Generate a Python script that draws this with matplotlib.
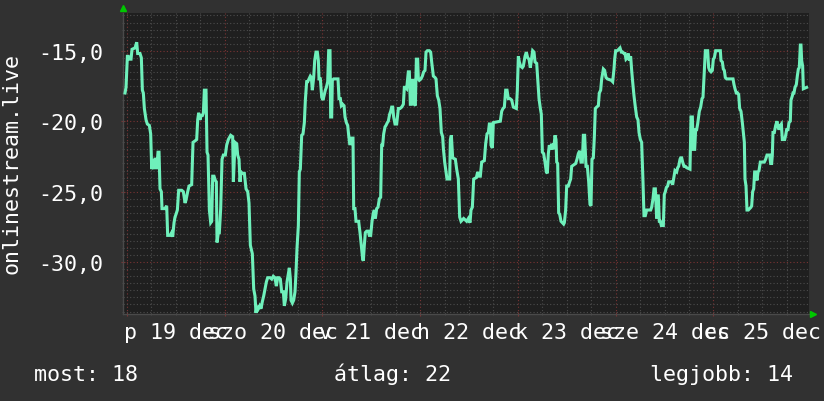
import matplotlib
matplotlib.use("Agg")
import matplotlib.pyplot as plt
from matplotlib.ticker import MultipleLocator, FixedLocator

# hours since 19 dec 00:00
hours = [-0.42, -0.17, 0.16, 0.4, 0.65, 1.06, 1.3, 2.04, 2.45, 2.69, 3.26, 3.59, 3.84, 4.08, 4.33, 4.74, 5.06, 5.55, 5.88,
         6.13, 6.37, 6.54, 6.95, 7.35, 7.68, 7.93, 8.17, 8.5, 8.66, 9.4, 9.81, 10.05, 10.63, 11.03, 11.28, 11.61, 11.85,
         12.1, 12.43, 12.75, 13.49, 13.9, 14.31, 14.55, 14.96, 15.29, 15.94, 16.27, 16.76, 17.17, 17.42, 17.66, 17.99,
         18.23, 18.56, 18.81, 19.05, 19.46, 19.71, 19.95, 20.28, 20.61, 20.85, 21.1, 21.42, 21.75, 22.0, 22.16, 22.49,
         22.73, 23.06, 23.39, 23.71, 24.2, 24.53, 24.94, 25.51, 26.0, 26.17, 26.58, 26.99,
         27.23, 27.56, 27.8, 28.05, 28.38, 28.87, 29.28, 29.69, 30.01, 30.34, 30.83, 31.16, 31.48, 31.73, 31.98, 32.3,
         32.63, 32.96, 33.28, 33.61, 33.94, 34.27, 34.59, 35.17, 35.58, 35.98, 36.39, 36.72, 37.05, 37.37, 37.7, 38.03,
         38.44, 38.68, 39.01, 39.34, 39.67, 39.91, 40.16, 40.32, 40.65, 40.97, 41.3, 41.55, 41.79, 42.12, 42.36, 42.61,
         42.94, 43.26, 43.59, 43.84, 44.16, 44.41, 44.74, 45.06, 45.31, 45.55, 45.88, 46.13, 46.45, 46.78, 47.03, 47.19,
         47.52, 47.85, 48.17, 48.5, 48.74, 48.99, 49.32, 49.56, 49.89, 50.05, 50.3, 50.46, 50.79, 51.85, 52.1, 52.43,
         52.67, 53.0, 53.33, 53.57, 53.9, 54.23, 54.47, 54.72, 55.04, 55.21, 55.53, 55.7,
         56.02, 56.27, 56.92, 57.25, 57.66, 57.91, 58.07, 58.31, 58.56, 58.89, 59.3, 59.54, 59.87, 60.2, 60.52, 60.77,
         61.02, 61.34, 61.67, 62.0, 62.32, 62.57, 62.81, 63.06, 63.39, 63.63, 63.96, 64.2, 64.53, 64.78, 65.02, 65.27,
         65.51, 65.84, 66.25, 66.66, 67.07, 67.48, 67.89, 68.13, 68.38, 68.7, 69.11, 69.36, 69.6, 69.85, 70.09, 70.34,
         70.59, 70.83, 71.08, 71.4, 71.57, 71.81, 72.22, 72.55, 72.88, 73.2, 73.45, 73.78, 74.27, 74.59, 74.84, 75.25,
         75.66, 75.9, 76.23, 76.56, 76.88, 77.21, 77.54, 77.7, 78.03, 78.27, 78.6, 79.26, 79.42, 79.67, 79.99, 80.65,
         80.97, 81.38, 81.71, 82.04, 82.69, 83.43, 83.84,
         84.25, 84.49, 84.82, 85.15, 85.8, 86.13, 86.45, 86.78, 87.11, 87.76, 88.09, 88.42, 88.75, 88.99, 89.24, 89.4,
         89.73, 89.97, 91.69, 92.02, 92.34, 92.67, 93.0, 93.33, 93.65, 94.06, 94.47, 94.88, 95.62, 95.86, 96.11, 96.35,
         96.68, 97.09, 97.33, 97.74, 98.07, 98.4, 98.72, 99.05, 99.38, 99.62, 99.95, 100.2, 100.61, 100.85, 101.18,
         101.51, 101.75, 102.0, 102.32, 102.65, 102.98, 103.22, 103.47, 103.71, 104.04, 104.29, 104.61, 104.94, 105.11,
         105.35, 105.52, 105.76, 106.0, 106.25, 106.58, 106.9, 107.23, 107.4, 107.72, 107.97, 108.38, 108.7, 108.95,
         109.2, 110.18, 110.5, 110.83, 111.16, 111.48, 111.81,
         112.06, 112.38, 112.71, 113.04, 113.37, 113.69, 113.94, 114.18, 114.51, 114.76, 115.0, 115.33, 115.74, 115.98,
         116.31, 116.56, 116.97, 117.29, 117.62, 117.95, 118.93, 119.26, 119.58, 119.75, 119.99, 120.4, 120.73, 121.06,
         121.38, 121.71, 122.04, 122.28, 122.53, 122.85, 123.1, 123.35, 123.67, 123.92, 124.16, 124.49, 124.82, 125.15,
         125.47, 125.72, 126.05, 126.37, 126.7, 126.94, 127.27, 127.6, 128.58, 128.83, 129.15, 129.4, 129.73, 130.05,
         130.22, 130.46, 130.71, 130.95, 131.2, 131.69, 131.93, 132.18, 132.43, 132.75, 133.0, 133.65, 133.98, 134.31,
         134.55, 134.96, 135.21, 135.45, 135.78, 135.94, 136.19, 136.43, 136.76, 137.09, 137.41, 138.23, 138.48, 138.81,
         139.05, 139.38, 139.62, 139.87, 140.11,
         140.52, 140.85, 141.18, 141.42, 141.75, 142.0, 142.57, 142.81, 143.06, 143.39, 143.71, 143.96, 144.2, 144.53,
         145.68, 145.84, 146.17, 146.41, 146.66, 146.9, 147.23, 148.79, 149.03, 149.28, 149.6, 149.93, 150.18, 150.42,
         150.75, 151.08, 151.32, 151.57, 151.73, 151.98, 152.22, 152.55, 152.88, 153.2, 153.37, 153.61, 153.86, 154.1,
         154.35, 154.67, 154.92, 155.17, 155.49, 156.47, 156.8, 157.13, 157.78, 158.03, 158.27, 158.44, 158.6, 158.93,
         159.26, 159.58, 159.75, 160.07, 160.4, 160.65, 160.89, 161.46, 161.71, 161.95, 162.28, 162.53, 162.85, 163.02,
         163.35, 163.51, 163.75, 164.0, 164.33, 164.57, 164.82, 165.06, 165.31, 165.47, 165.64, 165.88, 166.05, 166.86]

temps = [-18.0, -17.6, -15.4, -15.4, -15.6, -15.6, -14.9, -14.8, -14.4, -15.2, -15.2, -15.5, -17.8, -18.0, -19.1, -19.9,
         -20.2, -20.3, -20.9, -23.4, -22.7, -23.4, -22.6, -23.4, -22.2, -22.2, -24.8, -25.0, -26.2, -26.2, -26.0, -28.1,
         -28.1, -27.9, -28.2, -27.2, -26.8, -26.6, -26.3, -24.9, -24.9, -25.0, -25.8, -25.6, -25.0, -24.6, -24.5, -21.5,
         -21.4, -21.3, -19.9, -19.4, -19.9, -19.6, -19.6, -19.4, -17.8, -17.8, -22.2, -22.4, -26.3, -27.2, -27.1, -23.9,
         -23.9, -24.2, -24.3, -28.6, -27.9, -27.9, -26.2, -22.7, -22.4, -22.4, -21.7, -21.3, -21.0, -21.1, -24.3, -21.5,
         -21.6,
         -22.4, -22.7, -24.3, -23.6, -23.7, -23.7, -24.8, -25.0, -25.8, -28.8, -29.4, -31.9, -32.4, -33.6, -33.1, -33.3,
         -33.1, -33.3, -32.8, -32.4, -31.9, -31.4, -31.1, -31.1, -31.2, -31.0, -31.1, -31.7, -31.1, -31.1, -31.2, -32.1,
         -32.1, -33.1, -32.6, -31.4, -30.8, -30.4, -31.2, -32.7, -32.9, -32.7, -32.1, -30.7, -29.0, -27.4, -23.6, -23.4,
         -21.0, -20.9, -20.1, -18.5, -17.2, -17.2, -17.0, -16.8, -16.9, -17.8, -16.9, -15.7, -15.1, -15.1, -15.7, -17.0,
         -17.0, -18.3, -18.5, -18.1, -17.8, -17.6, -17.2, -15.0, -15.0, -19.7, -19.7, -17.1, -17.0, -17.0, -18.4, -18.4,
         -18.9, -18.8, -18.9, -19.7, -20.1, -20.3, -21.0, -21.6, -21.6, -21.2, -21.2, -26.2,
         -26.2, -27.1, -27.1, -27.9, -29.1, -29.8, -29.9, -28.8, -27.9, -27.8, -27.8, -28.1, -28.1, -27.1, -26.5, -26.3,
         -26.9, -26.2, -26.1, -25.5, -25.4, -21.7, -21.7, -20.9, -20.4, -20.3, -20.1, -20.0, -19.5, -19.3, -19.0, -19.0,
         -19.7, -20.2, -20.2, -19.1, -19.1, -19.0, -18.8, -17.6, -17.6, -17.7, -16.5, -16.5, -18.8, -18.8, -17.1, -17.1,
         -18.8, -18.9, -15.6, -15.6, -17.0, -17.1, -17.0, -16.8, -16.5, -16.4, -15.1, -15.0, -15.0, -15.1, -15.8, -16.8,
         -16.9, -17.0, -18.2, -18.5, -19.1, -20.8, -21.1, -21.9, -22.9, -23.4, -24.1, -24.1, -21.3, -21.0, -22.6, -22.7,
         -23.4, -24.1, -26.8, -27.1, -26.9, -27.1, -26.9,
         -27.2, -26.3, -26.1, -24.1, -24.0, -23.6, -23.9, -23.9, -22.9, -22.8, -21.6, -20.9, -20.8, -20.2, -20.2, -21.7,
         -21.9, -20.1, -20.0, -19.3, -19.1, -19.0, -17.8, -17.8, -18.4, -18.4, -18.5, -19.0, -19.1, -17.8, -15.4, -15.8,
         -16.1, -16.2, -16.1, -15.4, -15.1, -15.5, -15.6, -16.2, -15.5, -15.0, -15.1, -15.8, -15.9, -17.0, -18.4,
         -19.1, -19.5, -22.2, -22.3, -22.9, -23.6, -23.7, -22.3, -21.7, -22.0, -21.6, -22.0, -21.5, -21.0,
         -21.3, -22.9, -23.0, -26.5, -26.6, -27.1, -27.2, -27.3, -27.2, -26.3, -24.6, -24.6, -24.3, -24.1,
         -23.2, -23.0, -22.7, -22.3, -22.1, -22.9, -22.9,
         -21.0, -21.0, -23.2, -23.2, -24.3, -25.9, -26.0, -22.7, -22.6, -21.1, -19.1, -19.0, -18.9, -18.0,
         -17.8, -17.0, -16.3, -16.4, -16.9, -17.0, -17.1, -17.2, -16.3, -15.6, -15.0, -15.0, -14.9, -14.8,
         -15.1, -15.1, -15.2, -15.2, -15.6, -15.5, -15.2, -15.7, -15.4, -16.4, -17.2, -18.2, -19.0, -19.7,
         -19.9, -20.8, -21.3, -21.5, -24.3, -26.7, -26.7, -26.3, -26.3, -26.1, -25.5, -24.8, -24.8, -26.9,
         -25.3, -25.3, -27.1, -27.1, -27.4, -27.4, -25.2, -25.0, -24.7, -24.6, -24.3, -24.3, -24.5, -23.9,
         -23.5, -23.6, -23.3, -23.2, -22.7, -22.6, -22.6, -22.9, -23.2, -23.2, -23.3, -23.4, -19.7, -19.7,
         -22.0, -22.0, -20.6, -20.6, -20.2,
         -19.3, -19.0, -18.4, -18.3, -16.4, -15.0, -15.0, -16.2, -16.4, -16.5, -16.4, -15.6, -15.5, -15.0,
         -15.0, -15.7, -15.8, -16.3, -16.4, -16.9, -17.0, -17.0, -17.4, -17.7, -18.0, -18.0, -18.1, -19.1,
         -19.3, -20.1, -20.8, -21.5, -24.1, -24.6, -26.3, -26.3, -26.2, -26.1, -26.0, -25.0, -24.8, -23.6,
         -23.6, -24.2, -23.6, -23.5, -22.9, -22.9, -22.7, -22.4, -22.4, -23.0, -23.0, -22.4, -20.8, -20.8,
         -20.3, -20.0, -20.3, -20.6, -20.3, -20.2, -21.3, -21.3, -21.0, -20.6, -20.6, -20.1, -20.0, -18.5,
         -18.2, -18.0, -18.0, -17.6, -17.4, -16.8, -16.3, -16.2, -14.6, -14.6, -15.7, -16.1, -17.7, -17.6]

day_labels = ["p 19 dec", "szo 20 dec", "v 21 dec", "h 22 dec", "k 23 dec", "sze 24 dec", "cs 25 dec"]
y_ticks = [-30, -25, -20, -15]
y_tick_labels = ["-30,0", "-25,0", "-20,0", "-15,0"]
y_label = "onlinestream.live"
legend_items = ["most: 18", "átlag: 22", "legjobb: 14"]

W, H = 824, 402
BG = "#313131"
CANVAS = "#1f1f1f"
LINE = "#6ff0bb"
MINOR = "#4c4c4c"
MAJOR = "#7a3434"
FONT = "DejaVu Sans Mono"
FS = 15.6

plt.rcParams["font.family"] = [FONT, "DejaVu Sans"]

fig = plt.figure(figsize=(W / 100, H / 100), dpi=100, facecolor=BG)
left, right, top, bottom = 123.5, 809.5, 13.5, 314.5
ax = fig.add_axes([left / W, 1 - bottom / H, (right - left) / W, (bottom - top) / H])
ax.set_facecolor(CANVAS)

ax.plot(hours, temps, color=LINE, lw=2.2, solid_joinstyle="miter", zorder=3)

ax.set_xlim(-0.79, 167.56)
ax.set_ylim(-33.64, -12.29)

# grid
ax.xaxis.set_major_locator(FixedLocator([24 * i for i in range(7)]))
ax.xaxis.set_minor_locator(MultipleLocator(6))
ax.yaxis.set_major_locator(FixedLocator(y_ticks))
ax.yaxis.set_minor_locator(MultipleLocator(0.5))
ax.grid(which="minor", color=MINOR, lw=0.8, ls=(0, (1, 2)), zorder=1)
ax.grid(which="major", color=MAJOR, lw=0.8, ls=(0, (1, 2)), zorder=1)
ax.set_axisbelow(True)

ax.set_xticklabels([])
ax.set_yticklabels(y_tick_labels)
ax.tick_params(axis="y", which="major", length=3, color=MAJOR, direction="inout", pad=13,
               labelsize=FS, labelcolor="white")
ax.tick_params(axis="y", which="minor", length=2, color=MINOR, direction="inout")
ax.tick_params(axis="x", which="major", length=3, color=MAJOR, direction="inout")
ax.tick_params(axis="x", which="minor", length=2, color=MINOR, direction="inout")

for s in ["top", "right"]:
    ax.spines[s].set_visible(False)
for s in ["left", "bottom"]:
    ax.spines[s].set_color("#4a4a4a")
    ax.spines[s].set_linewidth(1.0)

# day labels centred at noon
for i, lab in enumerate(day_labels):
    ax.text(12 + 24 * i, -(339.5 - bottom) / (bottom - top), lab, transform=ax.get_xaxis_transform(),
            ha="center", va="baseline", color="white", fontsize=FS, clip_on=False)

# axis arrows
ax.plot([0], [1 + 4.5 / (bottom - top)], marker="^", color="#00c800", ms=5, transform=ax.transAxes,
        clip_on=False, zorder=5)
ax.plot([1 + 4 / (right - left)], [0], marker=">", color="#00c800", ms=5, transform=ax.transAxes,
        clip_on=False, zorder=5)

fig.text(12 / W, 1 - 164 / H, y_label, rotation=90, ha="center", va="center", color="white", fontsize=FS)

legend_x = [34, 334, 650]
for x, t in zip(legend_x, legend_items):
    fig.text(x / W, 1 - 381 / H, t, ha="left", va="baseline", color="white", fontsize=FS)

fig.savefig("out.png", dpi=100, facecolor=BG)
